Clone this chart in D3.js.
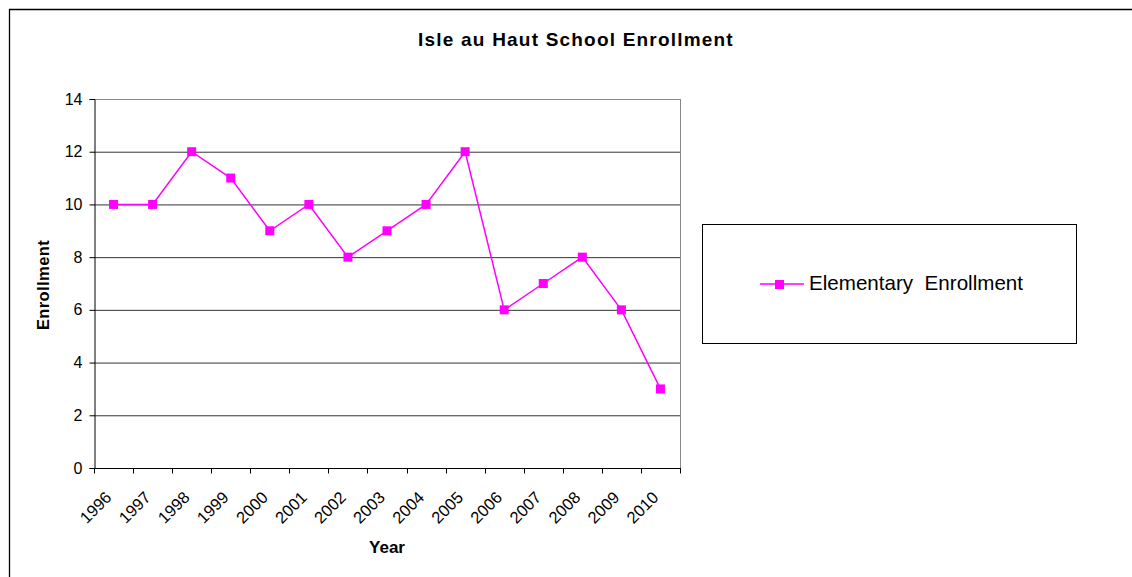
<!DOCTYPE html>
<html><head><meta charset="utf-8">
<script src="https://cdn.jsdelivr.net/npm/d3@7"></script>
<style>body{margin:0;background:#fff;} svg{display:block;font-family:"Liberation Sans",Arial,sans-serif;}</style>
</head><body>
<script>
const years = ["1996","1997","1998","1999","2000","2001","2002","2003","2004","2005","2006","2007","2008","2009","2010"];
const enrollment = [10,10,12,11,9,10,8,9,10,12,6,7,8,6,3];
const yTicks = [0,2,4,6,8,10,12,14];
const seriesName = "Elementary  Enrollment";
const title = "Isle au Haut School Enrollment";

const W=1132,H=577;
const svg=d3.select("body").append("svg").attr("width",W).attr("height",H);
svg.append("path").attr("d","M9.5,577V9.5H1132").attr("fill","none").attr("stroke","#000").attr("stroke-width",1.3);

const m={l:94,r:680,t:99,b:468};
const x=d3.scaleBand().domain(years).range([m.l,m.r]);
const y=d3.scaleLinear().domain([0,14]).range([m.b,m.t]);

svg.append("g").selectAll("line").data(yTicks.filter(v=>v>0)).join("line")
  .attr("x1",m.l).attr("x2",m.r).attr("y1",d=>y(d)+0.5).attr("y2",d=>y(d)+0.5)
  .attr("stroke",d=>d===14?"#888":"#333").attr("stroke-width",1);
svg.append("line").attr("x1",m.r+0.5).attr("x2",m.r+0.5).attr("y1",m.t).attr("y2",m.b).attr("stroke","#888");

const ya=svg.append("g").attr("transform",`translate(${m.l+0.5},0)`)
  .call(d3.axisLeft(y).tickValues(yTicks).tickSize(5).tickPadding(7));
ya.attr("font-size",null).attr("font-family",null);
ya.select(".domain").attr("stroke","#000");
ya.selectAll("text").style("font-size","16px").attr("fill","#000");

const xa=svg.append("g").attr("transform",`translate(0,${m.b+0.5})`);
xa.append("line").attr("x1",m.l).attr("x2",m.r+1).attr("stroke","#000");
const edges=years.map(d=>x(d)).concat([m.r]);
xa.selectAll("line.t").data(edges).join("line").attr("class","t")
  .attr("x1",d=>Math.round(d)+0.5).attr("x2",d=>Math.round(d)+0.5).attr("y1",0).attr("y2",5).attr("stroke","#000");
xa.selectAll("text").data(years).join("text")
  .attr("transform",d=>`translate(${x(d)+x.bandwidth()/2-5},${26}) rotate(-45)`)
  .attr("text-anchor","end").attr("dy","0.35em").style("font-size","16.5px").text(d=>d);

const pts=years.map((d,i)=>[x(d)+x.bandwidth()/2,y(enrollment[i])]);
svg.append("path").attr("d",d3.line()(pts)).attr("fill","none").attr("stroke","#FF00FF").attr("stroke-width",1.5);
svg.append("g").selectAll("rect").data(pts).join("rect")
  .attr("x",d=>d[0]-4.5).attr("y",d=>d[1]-4.5).attr("width",9).attr("height",9).attr("fill","#FF00FF");

svg.append("text").attr("x",576).attr("y",46).attr("text-anchor","middle").attr("font-weight","bold")
  .style("font-size","19px").style("letter-spacing","1.2px").text(title);
svg.append("text").attr("x",387).attr("y",553).attr("text-anchor","middle").attr("font-weight","bold").style("font-size","17px").text("Year");
svg.append("text").attr("transform","translate(49,285) rotate(-90)").attr("text-anchor","middle").attr("font-weight","bold")
  .style("font-size","16.5px").style("letter-spacing","0.4px").text("Enrollment");

const lg=svg.append("g");
lg.append("rect").attr("x",702.5).attr("y",224.5).attr("width",374).attr("height",119).attr("fill","none").attr("stroke","#000");
lg.append("line").attr("x1",760).attr("x2",804).attr("y1",284).attr("y2",284).attr("stroke","#FF00FF").attr("stroke-width",1.5);
lg.append("rect").attr("x",775).attr("y",280).attr("width",9).attr("height",9).attr("fill","#FF00FF");
lg.append("text").attr("x",809).attr("y",290).style("font-size","20.6px").style("white-space","pre").text(seriesName);
</script>
</body></html>
